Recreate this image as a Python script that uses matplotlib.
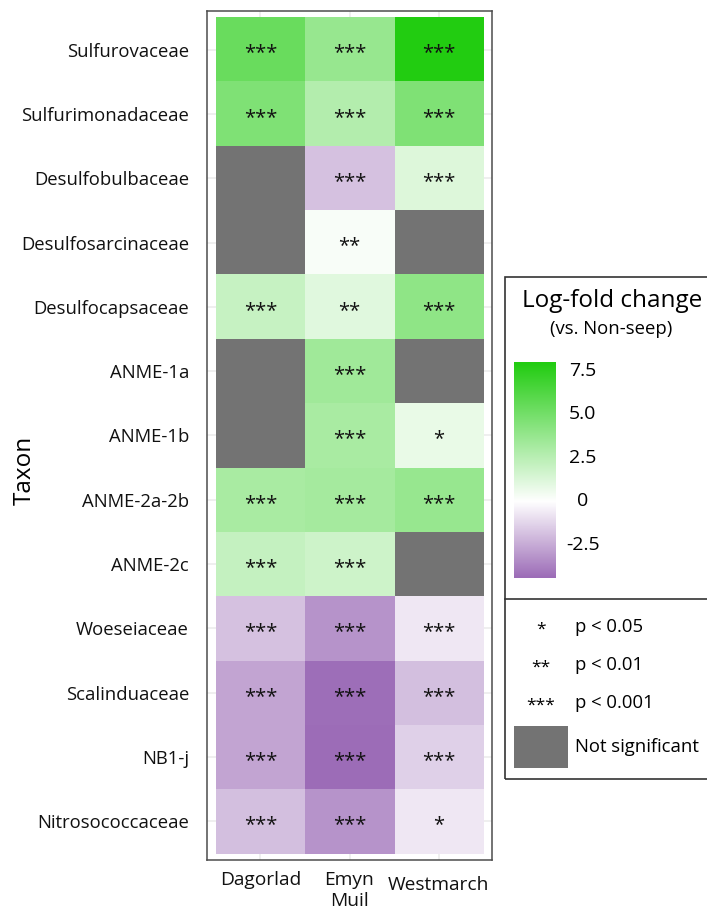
import numpy as np
import matplotlib
matplotlib.use("Agg")
import matplotlib.pyplot as plt
import matplotlib.transforms as mtransforms
from matplotlib.colors import LinearSegmentedColormap, TwoSlopeNorm
from matplotlib.patches import Rectangle

plt.rcParams['font.family'] = ['Open Sans', 'DejaVu Sans']

taxa = ["Sulfurovaceae", "Sulfurimonadaceae", "Desulfobulbaceae", "Desulfosarcinaceae",
        "Desulfocapsaceae", "ANME-1a", "ANME-1b", "ANME-2a-2b", "ANME-2c",
        "Woeseiaceae", "Scalinduaceae", "NB1-j", "Nitrosococcaceae"]
sites = ["Dagorlad", "Emyn\nMuil", "Westmarch"]

nan = np.nan
# log-fold change vs non-seep (nan = not significant)
dagorlad = [5.4, 4.6, nan, nan, 2.0, nan, nan, 3.1, 2.1, -1.85, -2.7, -2.7, -1.9]
emyn_muil = [3.7, 2.7, -1.85, 0.2, 1.1, 3.4, 3.1, 3.2, 1.8, -3.2, -4.3, -4.4, -3.2]
westmarch = [8.0, 4.6, 1.2, nan, 4.0, nan, 0.8, 3.7, nan, -0.7, -1.9, -1.4, -0.7]

sig_dagorlad = ["***", "***", "", "", "***", "", "", "***", "***", "***", "***", "***", "***"]
sig_emyn_muil = ["***", "***", "***", "**", "**", "***", "***", "***", "***", "***", "***", "***", "***"]
sig_westmarch = ["***", "***", "***", "", "***", "", "*", "***", "", "***", "***", "***", "*"]

cbar_ticks = [-2.5, 0, 2.5, 5.0, 7.5]
cbar_labels = ["-2.5", "0", "2.5", "5.0", "7.5"]
sig_keys = ["*", "**", "***"]
sig_text = ["p < 0.05", "p < 0.01", "p < 0.001"]

W, H = 707, 915
fig = plt.figure(figsize=(W / 100, H / 100), dpi=100)


def fx(px):
    return px / W


def fy(py):
    return 1 - py / H


vals = np.array([dagorlad, emyn_muil, westmarch]).T
sigs = np.array([sig_dagorlad, sig_emyn_muil, sig_westmarch]).T
vmin, vmax = -4.4, 8.0

cmap = LinearSegmentedColormap.from_list("pg", ["#9c6cb7", "#ffffff", "#22cc11"])
cmap.set_bad("#737373")
norm = TwoSlopeNorm(vmin=vmin, vcenter=0, vmax=vmax)

ax = fig.add_axes([fx(207), fy(860), fx(492) - fx(207), fy(11) - fy(860)])
ax.imshow(np.ma.masked_invalid(vals), cmap=cmap, norm=norm, aspect="auto",
          interpolation="nearest", extent=(0.5, 3.5, 13.5, 0.5), zorder=2)
ax.set_xlim(0.4, 3.6)
ax.set_ylim(13.6, 0.4)
ax.set_xticks(range(1, 4), sites)
ax.set_yticks(range(1, 14), taxa)
ax.tick_params(length=0, labelsize=13.3, colors="#111111")
ax.tick_params(axis="y", pad=13)
ax.tick_params(axis="x", labelsize=13.8, pad=8)
for lab in ax.get_xticklabels():
    lab.set_linespacing(1.2)
# Westmarch sits a little lower in the original
wl = ax.get_xticklabels()[2]
wl.set_transform(wl.get_transform() + mtransforms.ScaledTranslation(0, -5 / 100, fig.dpi_scale_trans))
ax.grid(True, color="#ebebeb", lw=1.1, zorder=0)
ax.set_axisbelow(True)
for s in ax.spines.values():
    s.set_color("#4d4d4d")
    s.set_linewidth(1.1)

for i in range(len(taxa)):
    for j in range(len(sites)):
        if sigs[i, j]:
            ax.text(j + 1, i + 1 + 0.06, sigs[i, j], ha="center", va="center",
                    fontsize=14.5, color="#111111", zorder=3)

fig.text(fx(25), fy(470), "Taxon", rotation=90, ha="center", va="center", fontsize=17.5)

# legend box
fig.patches.append(Rectangle((fx(505), fy(779)), fx(720) - fx(505), fy(277) - fy(779),
                             transform=fig.transFigure, fill=False, ec="#333333",
                             lw=1.2, clip_on=False))
fig.add_artist(plt.Line2D([fx(505), fx(720)], [fy(599), fy(599)], color="#333333", lw=1.2))
fig.text(fx(612), fy(301), "Log-fold change", ha="center", va="center", fontsize=17.5)
fig.text(fx(611), fy(329), "(vs. Non-seep)", ha="center", va="center", fontsize=13.3)

# colourbar drawn as a gradient on a linear value axis
cax = fig.add_axes([fx(514), fy(578), fx(556) - fx(514), fy(362) - fy(578)])
grad = np.linspace(vmin, vmax, 400).reshape(-1, 1)
cax.imshow(grad, cmap=cmap, norm=norm, aspect="auto", origin="lower",
           extent=(0, 1, vmin, vmax), interpolation="bilinear")
cax.set_xlim(0, 1)
cax.set_ylim(vmin, vmax)
cax.set_axis_off()
for v, s in zip(cbar_ticks, cbar_labels):
    cax.text(1.64, v, s, transform=cax.get_yaxis_transform(), ha="center", va="center",
             fontsize=14)

for k, (key, txt) in enumerate(zip(sig_keys, sig_text)):
    yy = 627 + 38 * k
    fig.text(fx(541), fy(yy + 3), key, ha="center", va="center", fontsize=12.5)
    fig.text(fx(575), fy(yy), txt, ha="left", va="center", fontsize=13.3)
fig.patches.append(Rectangle((fx(514), fy(768)), fx(568) - fx(514), fy(726) - fy(768),
                             transform=fig.transFigure, fc="#737373", ec="none"))
fig.text(fx(575), fy(747), "Not significant", ha="left", va="center", fontsize=13.3)

fig.savefig("out.png", dpi=100)
